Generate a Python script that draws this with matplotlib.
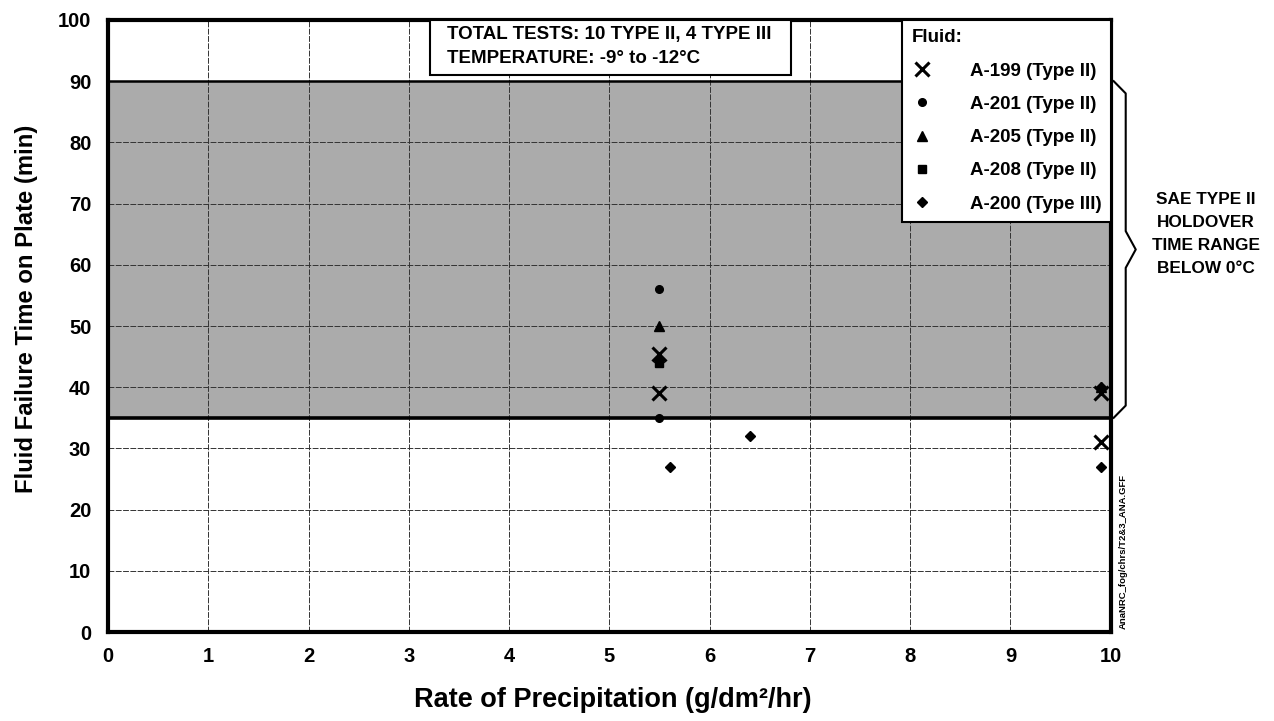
import matplotlib
matplotlib.use("Agg")
import matplotlib.pyplot as plt
from matplotlib.patches import Rectangle
from matplotlib.lines import Line2D

plt.rcParams['font.family'] = ['Liberation Sans', 'DejaVu Sans']

# Fluid failure observations: rate of precipitation (g/dm²/hr) vs failure time (min)
a199_rate = [5.5, 5.5, 9.9, 9.9]
a199_time = [45.5, 39, 39, 31]
a201_rate = [5.5, 5.5]
a201_time = [56, 35]
a205_rate = [5.5, 5.5, 9.9]
a205_time = [50, 45, 40]
a208_rate = [5.5]
a208_time = [44]
a200_rate = [5.6, 6.4, 9.9, 9.9]
a200_time = [27, 32, 27, 40]

series_labels = ['A-199 (Type II)', 'A-201 (Type II)', 'A-205 (Type II)',
                 'A-208 (Type II)', 'A-200 (Type III)']

# SAE Type II holdover time range below 0°C
band_low, band_high = 35, 90

x_ticks = list(range(0, 11))
y_ticks = list(range(0, 101, 10))

fig = plt.figure(figsize=(12.74, 7.21), dpi=100)
ax = fig.add_axes([0.0848, 0.1234, 0.7870, 0.8489])
ax.set_xlim(0, 10)
ax.set_ylim(0, 100)

# shaded holdover band
ax.add_patch(Rectangle((0, band_low), 10, band_high - band_low,
                       facecolor='#ababab', edgecolor='none', zorder=0))
ax.axhline(band_low, color='black', lw=2.6, zorder=3)
ax.axhline(band_high, color='black', lw=1.8, zorder=3)

ax.set_xticks(x_ticks)
ax.set_yticks(y_ticks)
ax.grid(True, color='#333333', lw=0.7, linestyle=(0, (6, 1.5)), zorder=1)
ax.tick_params(length=0, labelsize=14.5)
ax.tick_params(axis='x', pad=11)
ax.tick_params(axis='y', pad=12)
for lab in ax.get_xticklabels() + ax.get_yticklabels():
    lab.set_fontweight('bold')
for sp in ax.spines.values():
    sp.set_linewidth(3)
    sp.set_zorder(5)

mk = dict(color='black', linestyle='none', zorder=4)
ax.plot(a199_rate, a199_time, marker='x', ms=10, mew=2.2, label=series_labels[0], **mk)
ax.plot(a201_rate, a201_time, marker='o', ms=5.5, label=series_labels[1], **mk)
ax.plot(a205_rate, a205_time, marker='^', ms=7, label=series_labels[2], **mk)
ax.plot(a208_rate, a208_time, marker='s', ms=6, label=series_labels[3], **mk)
ax.plot(a200_rate, a200_time, marker='D', ms=5.5, label=series_labels[4], **mk)

leg = ax.legend(loc='upper right', bbox_to_anchor=(1.0, 1.0), frameon=True,
                fancybox=False, edgecolor='black', framealpha=1,
                title='Fluid:', prop={'size': 13.5, 'weight': 'bold'},
                labelspacing=0.86, handletextpad=2.0, borderpad=0.5,
                handlelength=1.1, borderaxespad=0)
leg.get_frame().set_linewidth(1.5)
leg.get_title().set_fontweight('bold')
leg.get_title().set_fontsize(13.5)
leg._legend_box.align = 'left'
leg.set_zorder(6)

# test summary box
ax.add_patch(Rectangle((0.321, 0.910), 0.360, 0.090, transform=ax.transAxes,
                       facecolor='white', edgecolor='black', lw=1.5, zorder=6))
ax.text(0.338, 0.977, 'TOTAL TESTS: 10 TYPE II, 4 TYPE III', transform=ax.transAxes,
        ha='left', va='center', fontsize=13.5, fontweight='bold', zorder=7)
ax.text(0.338, 0.937, 'TEMPERATURE: -9° to -12°C', transform=ax.transAxes,
        ha='left', va='center', fontsize=13.5, fontweight='bold', zorder=7)

ax.set_xlabel('Rate of Precipitation (g/dm²/hr)', fontsize=19.5, fontweight='bold')
ax.set_ylabel('Fluid Failure Time on Plate (min)', fontsize=17.2, fontweight='bold')
ax.xaxis.set_label_coords(0.503, -0.090)
ax.yaxis.set_label_coords(-0.070, 0.528)

# brace marking the holdover range
bx0, bx1, btip = 10.03, 10.15, 10.25
mid = (band_low + band_high) / 2
brace_x = [bx0, bx1, bx1, btip, bx1, bx1, bx0]
brace_y = [band_high, band_high - 2, mid + 3, mid, mid - 3, band_low + 2, band_low]
ax.add_line(Line2D(brace_x, brace_y, color='black', lw=1.5, clip_on=False))

ax.text(10.95, 65, 'SAE TYPE II\nHOLDOVER\nTIME RANGE\nBELOW 0°C', ha='center', va='center',
        fontsize=12.4, fontweight='bold', linespacing=1.65, clip_on=False)

ax.text(10.13, 0.5, 'AnaNRC_fog/chrs/T2&3_ANA.GFF', rotation=90, ha='center', va='bottom',
        fontsize=6.8, fontweight='bold', clip_on=False)

fig.savefig('out.png', dpi=100)
